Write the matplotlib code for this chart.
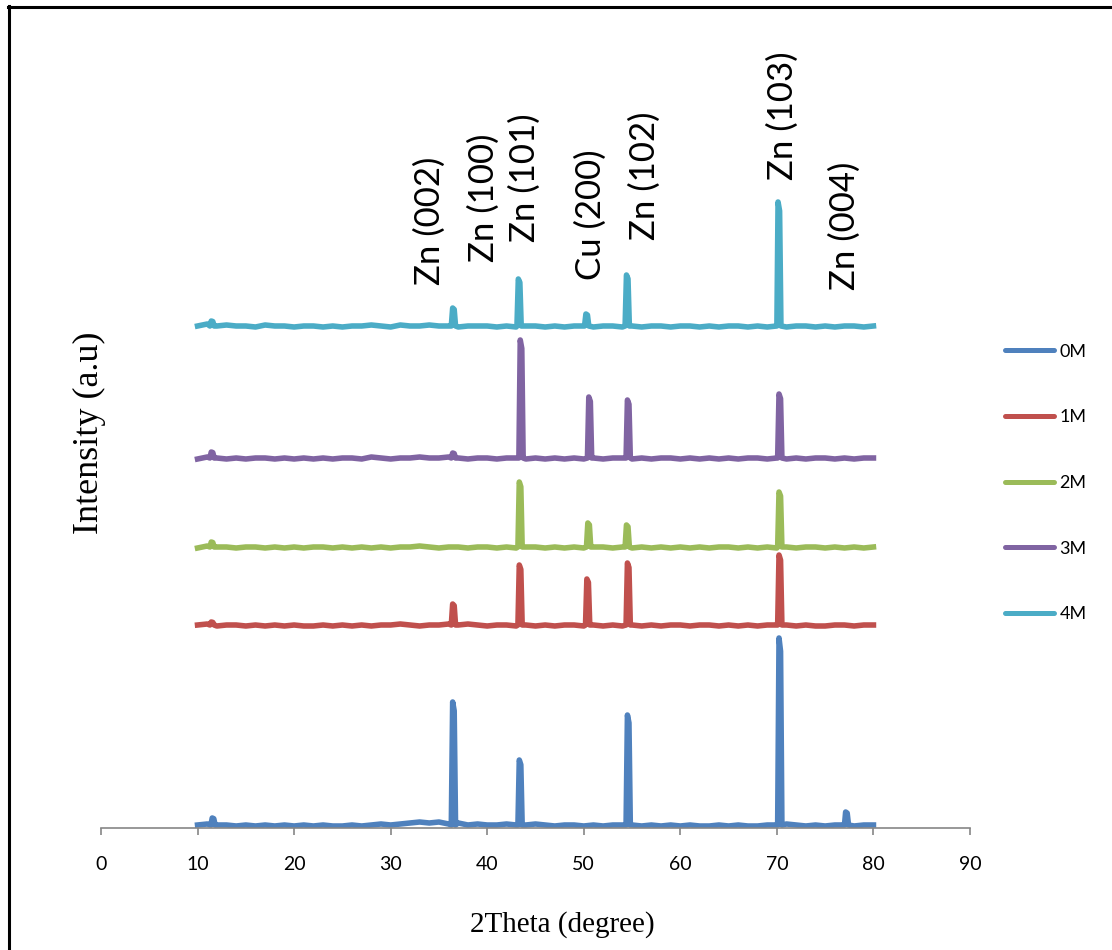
import numpy as np
import matplotlib
matplotlib.use("Agg")
from matplotlib import pyplot as plt
from matplotlib.lines import Line2D

# 2theta grid for the background (1 degree steps) and hand-read background levels
theta_bg = np.arange(10, 81)

bg_0M = [3, 4, 3, 3, 2, 3, 2, 3, 2, 3,
         2, 3, 2, 3, 2, 2, 3, 2, 3, 4,
         3, 4, 5, 6, 5, 6, 4, 5, 3, 4,
         3, 3, 4, 3, 3, 4, 3, 2, 3, 3,
         2, 3, 2, 3, 3, 3, 2, 3, 2, 3,
         2, 3, 2, 2, 3, 2, 3, 2, 2, 3,
         3, 4, 3, 2, 3, 2, 3, 3, 2, 3,
         3]
bg_1M = [3, 4, 2, 3, 3, 2, 3, 2, 3, 2,
         3, 2, 2, 3, 2, 3, 2, 3, 2, 3,
         3, 4, 3, 2, 3, 3, 4, 3, 4, 3,
         2, 3, 3, 2, 3, 2, 3, 2, 3, 3,
         2, 3, 2, 3, 2, 3, 2, 3, 2, 3,
         3, 2, 3, 3, 2, 3, 2, 3, 2, 3,
         3, 3, 2, 3, 2, 2, 3, 3, 2, 3,
         3]
bg_2M = [2, 4, 3, 3, 2, 3, 3, 2, 3, 2,
         3, 2, 3, 3, 2, 3, 2, 3, 2, 3,
         2, 3, 3, 4, 3, 2, 3, 3, 2, 3,
         3, 2, 3, 2, 3, 3, 2, 3, 2, 3,
         2, 3, 3, 2, 3, 2, 3, 2, 3, 2,
         3, 2, 3, 2, 3, 3, 2, 3, 2, 3,
         2, 3, 2, 3, 3, 2, 3, 2, 3, 2,
         3]
bg_3M = [2, 4, 3, 2, 3, 2, 3, 3, 2, 3,
         2, 3, 2, 3, 2, 3, 3, 2, 4, 3,
         2, 3, 3, 4, 3, 3, 4, 3, 2, 3,
         3, 2, 3, 3, 2, 3, 2, 3, 2, 3,
         2, 3, 2, 3, 3, 2, 3, 2, 3, 3,
         2, 3, 2, 3, 2, 3, 2, 3, 3, 2,
         3, 2, 3, 2, 3, 3, 2, 3, 2, 3,
         3]
bg_4M = [3, 5, 3, 4, 3, 3, 2, 4, 3, 3,
         2, 3, 3, 2, 3, 2, 3, 3, 4, 3,
         2, 4, 3, 3, 4, 3, 3, 2, 3, 3,
         3, 2, 3, 2, 3, 3, 2, 3, 2, 3,
         3, 2, 3, 3, 2, 3, 2, 3, 3, 2,
         3, 3, 2, 3, 2, 3, 3, 2, 3, 2,
         3, 2, 3, 3, 2, 3, 2, 3, 3, 2,
         3]

# diffraction peaks: position (2theta) and height above background
peaks_0M = [(11.6, 10), (36.5, 126), (43.4, 68), (54.6, 113), (70.3, 190), (77.2, 16)]
peaks_1M = [(11.5, 6), (36.5, 24), (43.4, 63), (50.4, 49), (54.6, 65), (70.3, 73)]
peaks_2M = [(11.5, 8), (43.4, 68), (50.5, 27), (54.5, 25), (70.3, 58)]
peaks_3M = [(11.5, 9), (36.5, 8), (43.5, 121), (50.6, 64), (54.6, 61), (70.3, 67)]
peaks_4M = [(11.5, 8), (36.5, 21), (43.3, 50), (50.3, 15), (54.5, 54), (70.2, 127)]

labels = ['0M', '1M', '2M', '3M', '4M']
offsets = [0, 200, 278, 367, 499]
colors = ['#4F81BD', '#C0504D', '#9BBB59', '#8064A2', '#4BACC6']

planes = ['Zn (002)', 'Zn (100)', 'Zn (101)', 'Cu (200)', 'Zn (102)', 'Zn (103)', 'Zn (004)']
plane_x = [34.0, 39.6, 43.9, 50.7, 56.3, 70.6, 77.0]
plane_y = [543, 566, 586, 548, 588, 648, 538]


def build(bg, peaks):
    x = list(theta_bg)
    y = list(bg)
    for p, h in peaks:
        x += [p - 0.22, p - 0.08, p + 0.08, p + 0.22]
        y += [3, h, h * 0.93, 3]
    order = np.argsort(x, kind='stable')
    return np.array(x)[order], np.array(y)[order]


fig = plt.figure(figsize=(11.12, 9.5), dpi=100)
ax = fig.add_axes([101 / 1112, 122 / 950, 869 / 1112, 788 / 950])

series = [(bg_0M, peaks_0M), (bg_1M, peaks_1M), (bg_2M, peaks_2M),
          (bg_3M, peaks_3M), (bg_4M, peaks_4M)]
for (bg, pk), lab, off, c in zip(series, labels, offsets, colors):
    x, y = build(bg, pk)
    ax.plot(x, y + off, color=c, lw=4.0, label=lab, solid_joinstyle='round')

for t, px, py in zip(planes, plane_x, plane_y):
    ax.text(px, py, t, rotation=90, ha='center', va='bottom',
            fontsize=25, family=['Lato', 'DejaVu Sans'])

ax.set_xlim(0, 90)
ax.set_ylim(0, 788)
ax.set_xticks(np.arange(0, 91, 10))
ax.set_yticks([])
for s in ['left', 'right', 'top']:
    ax.spines[s].set_visible(False)
ax.spines['bottom'].set_color('#868686')
ax.spines['bottom'].set_linewidth(1.2)
ax.tick_params(axis='x', direction='out', length=5, width=1.2, color='#868686',
               pad=15, labelsize=14, labelcolor='black')
for lb in ax.get_xticklabels():
    lb.set_family(['Lato', 'DejaVu Sans'])

leg = fig.legend(loc='center left', bbox_to_anchor=(989 / 1112, 1 - 483 / 950),
                 frameon=False, handlelength=2.7, handletextpad=0.3,
                 labelspacing=2.75, prop={'family': 'Lato', 'size': 13})
for line in leg.get_lines():
    line.set_linewidth(3.6)
    line.set_solid_capstyle('round')

fig.text(562 / 1112, 1 - 925 / 950, '2Theta (degree)', ha='center', va='center',
         fontsize=21, family='Liberation Serif')
fig.text(89 / 1112, 1 - 433 / 950, 'Intensity (a.u)', ha='center', va='center',
         rotation=90, fontsize=26, family='Liberation Serif')

# outer frame (cut off at the right and bottom in the original image)
fig.add_artist(Line2D([9 / 1112, 9 / 1112], [0, 1 - 6 / 950], color='black', lw=2.2,
                      transform=fig.transFigure))
fig.add_artist(Line2D([8 / 1112, 1], [1 - 7 / 950, 1 - 7 / 950], color='black', lw=2.2,
                      transform=fig.transFigure))

plt.savefig('out.png', dpi=100)
plt.close()
